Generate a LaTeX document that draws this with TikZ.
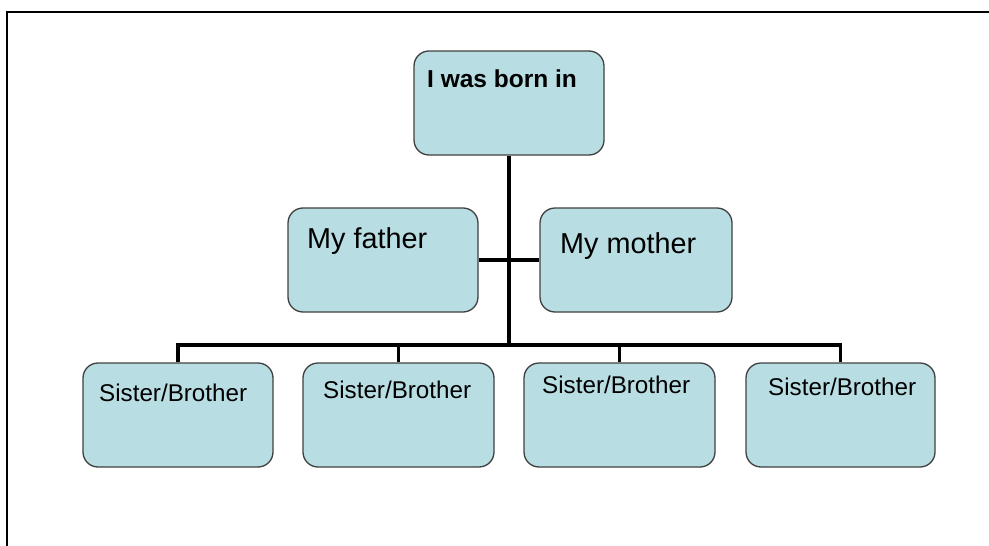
\documentclass[tikz,border=0pt]{standalone}
\usepackage{fontspec}
\setmainfont{Liberation Sans}
\begin{document}
\begin{tikzpicture}[x=1pt,y=-1pt,
  box/.style={draw=black!75, line width=1.3pt, fill=boxfill, rounded corners=15pt, minimum height=104pt, inner sep=0pt},
  lbl/.style={anchor=base west, inner sep=0pt, text=black},
  conn/.style={draw=black, line width=3.8pt},
  frame/.style={draw=black, line width=2pt}]
\definecolor{boxfill}{RGB}{184,222,227}
\useasboundingbox (0,0) rectangle (989,546);
% frame
\coordinate (fr) at (989,11.5);
\coordinate (fc) at (6.5,11.5);
\coordinate (fb) at (6.5,546);
\draw[frame] (fr) -- (fc) -- (fb);
% boxes
\node[box, minimum width=190pt] (top) at (509,103) {};
\node[box, minimum width=190pt] (father) at (383,260) {};
\node[box, minimum width=192pt] (mother) at (636,260) {};
\node[box, minimum width=190pt] (s1) at (178,415) {};
\node[box, minimum width=191pt] (s2) at (398.5,415) {};
\node[box, minimum width=191pt] (s3) at (619.5,415) {};
\node[box, minimum width=189pt] (s4) at (840.5,415) {};
% labels
\node[lbl, font=\fontsize{24.5}{28}\selectfont\bfseries] (ttop) at (427,87) {I was born in};
\node[lbl, font=\fontsize{28.8}{32}\selectfont] (tfather) at (307,248) {My father};
\node[lbl, font=\fontsize{28.8}{32}\selectfont] (tmother) at (560,253) {My mother};
\node[lbl, font=\fontsize{24.2}{28}\selectfont] (ts1) at (99,401) {Sister/Brother};
\node[lbl, font=\fontsize{24.2}{28}\selectfont] (ts2) at (323,398) {Sister/Brother};
\node[lbl, font=\fontsize{24.2}{28}\selectfont] (ts3) at (542,393) {Sister/Brother};
\node[lbl, font=\fontsize{24.2}{28}\selectfont] (ts4) at (768,395) {Sister/Brother};
% connectors
\coordinate (bus) at (509,345);
\draw[conn] (top.south) -- (bus);
\draw[conn] (father.east) -- (mother.west);
\draw[conn] (s1.north) |- (bus) -| (s4.north);
\draw[conn] (s2.north) -- (s2.north |- bus);
\draw[conn] (s3.north) -- (s3.north |- bus);
\end{tikzpicture}
\end{document}
